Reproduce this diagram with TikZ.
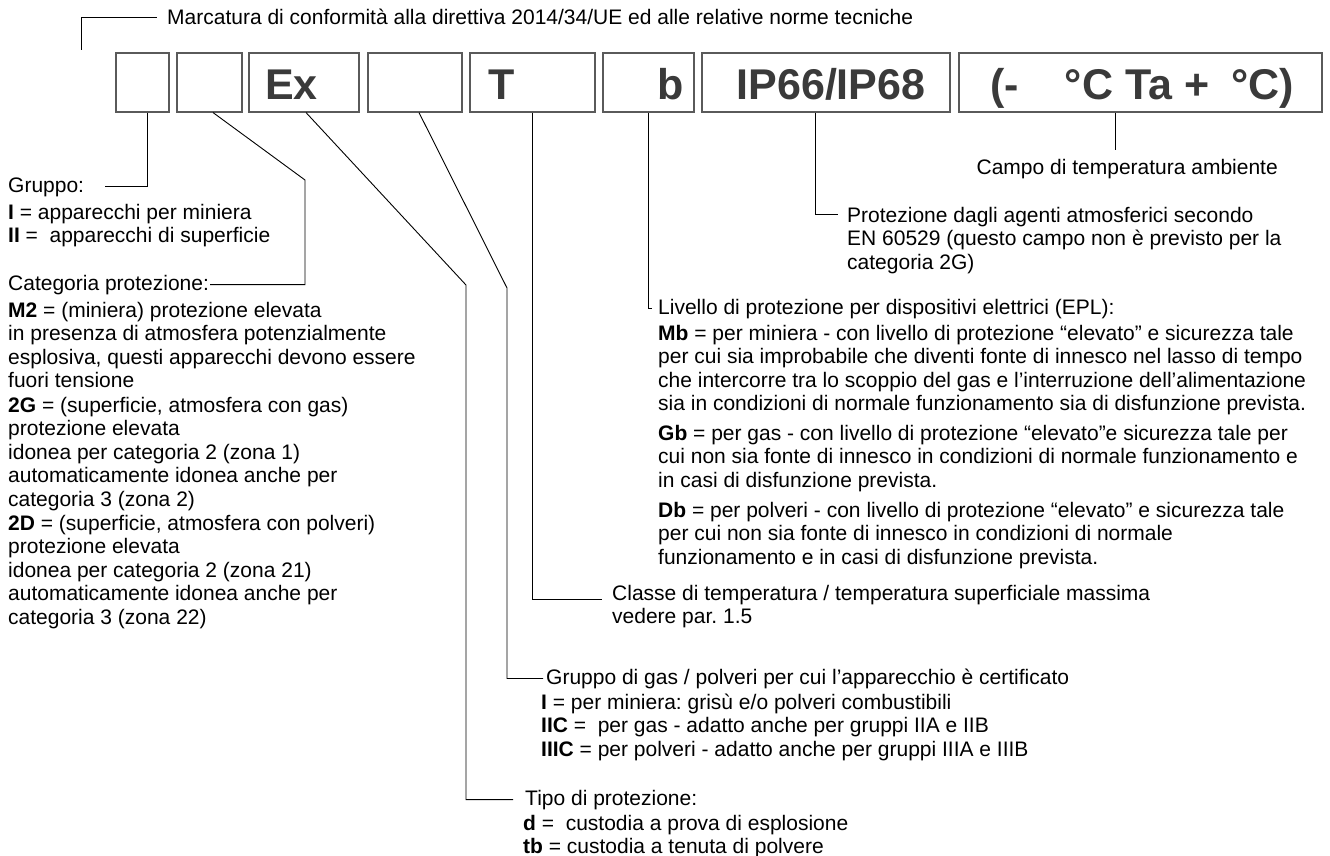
\documentclass[tikz,border=0pt]{standalone}
\usepackage{fontspec}
\setmainfont{Liberation Sans}
\definecolor{boxtext}{HTML}{3A3A3A}
\definecolor{boxline}{HTML}{5A5A5A}
\begin{document}
\frenchspacing
\begin{tikzpicture}[x=1pt,y=-1pt,
  txt/.style={font=\fontsize{21}{23.5}\selectfont\frenchspacing, inner sep=0pt, anchor=base west, align=left},
  markbox/.style={draw=boxline, line width=1.1pt, minimum height=59pt, inner sep=0pt},
  boxtxt/.style={font=\fontsize{43}{43}\selectfont\bfseries, text=boxtext, inner sep=0pt},
  conn/.style={draw=black, line width=0.9pt}]
\useasboundingbox[fill=white] (0,0) rectangle (1330,856);

% marking boxes
\node[markbox, minimum width=53pt]  (b1) at (142.5,82.5) {};
\node[markbox, minimum width=65pt]  (b2) at (209.5,82.5) {};
\node[markbox, minimum width=110pt] (b3) at (304,82.5) {};
\node[markbox, minimum width=94pt]  (b4) at (415,82.5) {};
\node[markbox, minimum width=125pt] (b5) at (532.5,82.5) {};
\node[markbox, minimum width=91pt]  (b6) at (648.5,82.5) {};
\node[markbox, minimum width=248pt] (b7) at (826,82.5) {};
\node[markbox, minimum width=363pt] (b8) at (1140.5,82.5) {};

\node[boxtxt, anchor=base west] (tex) at (265,100) {Ex};
\node[boxtxt, anchor=base west] (tt) at (488,100) {T};
\node[boxtxt, anchor=base east] (tb) at (684,100) {b};
\node[boxtxt, anchor=base] (tip) at (831,100) {IP66/IP68};
\node[boxtxt, anchor=base] (tta) at (1142,100) {(-\hspace{46pt}°C Ta +\hspace{10pt} °C)};

% texts (multi-line nodes: base anchor = baseline of last line)
\node[txt] (marc) at (167,25) {Marcatura di conformità alla direttiva 2014/34/UE ed alle relative norme tecniche};
\node[txt, anchor=base east] (campo) at (1278,174) {Campo di temperatura ambiente};

\node[txt] (gruppo) at (8,192) {Gruppo:};
\node[txt] (gI) at (8,242.5) {\textbf{I} = apparecchi per miniera\\\textbf{II} =\ \ apparecchi di superficie};
\node[txt] (cat) at (8,290) {Categoria protezione:};
\node[txt] (m2) at (8,387.5) {\textbf{M2} = (miniera) protezione elevata\\in presenza di atmosfera potenzialmente\\esplosiva, questi apparecchi devono essere\\fuori tensione};
\node[txt] (g2) at (8,506) {\textbf{2G} = (superficie, atmosfera con gas)\\protezione elevata\\idonea per categoria 2 (zona 1)\\automaticamente idonea anche per\\categoria 3 (zona 2)};
\node[txt] (d2) at (8,624) {\textbf{2D} = (superficie, atmosfera con polveri)\\protezione elevata\\idonea per categoria 2 (zona 21)\\automaticamente idonea anche per\\categoria 3 (zona 22)};

\node[txt] (prot) at (847,269) {Protezione dagli agenti atmosferici secondo\\EN 60529 (questo campo non è previsto per la\\categoria 2G)};
\node[txt] (liv) at (658,314) {Livello di protezione per dispositivi elettrici (EPL):};
\node[txt] (mb) at (658,410.5) {\textbf{Mb} = per miniera - con livello di protezione “elevato” e sicurezza tale\\per cui sia improbabile che diventi fonte di innesco nel lasso di tempo\\che intercorre tra lo scoppio del gas e l’interruzione dell’alimentazione\\sia in condizioni di normale funzionamento sia di disfunzione prevista.};
\node[txt] (gb) at (658,487) {\textbf{Gb} = per gas - con livello di protezione “elevato”e sicurezza tale per\\cui non sia fonte di innesco in condizioni di normale funzionamento e\\in casi di disfunzione prevista.};
\node[txt] (db) at (658,564) {\textbf{Db} = per polveri - con livello di protezione “elevato” e sicurezza tale\\per cui non sia fonte di innesco in condizioni di normale\\funzionamento e in casi di disfunzione prevista.};

\node[txt] (classe) at (612,623.5) {Classe di temperatura / temperatura superficiale massima\\vedere par. 1.5};
\node[txt] (gas) at (546,684) {Gruppo di gas / polveri per cui l’apparecchio è certificato};
\node[txt] (gasI) at (541,756) {\textbf{I} = per miniera: grisù e/o polveri combustibili\\\textbf{IIC} =\ \ per gas - adatto anche per gruppi IIA e IIB\\\textbf{IIIC} = per polveri - adatto anche per gruppi IIIA e IIIB};
\node[txt] (tipo) at (525,805) {Tipo di protezione:};
\node[txt] (dd) at (523,853.5) {\textbf{d} =\ \ custodia a prova di esplosione\\\textbf{tb} = custodia a tenuta di polvere};

% connectors
\coordinate (k0) at (81,50);
\coordinate (k2) at (305,180);
\coordinate (k3) at (466,285);
\coordinate (k4) at (507,288);
\coordinate (k8) at (1115,150);

\draw[conn] (k0) |- ([xshift=-10pt]marc.west);
\draw[conn] ([xshift=4.5pt]b1.south) |- ([xshift=21pt]gruppo.east);
\draw[conn] ([xshift=3.5pt]b2.south) -- (k2) |- ([xshift=1pt]cat.east);
\draw[conn] ([xshift=2pt]b3.south) -- (k3) |- ([xshift=-12pt]tipo.west);
\draw[conn] ([xshift=4pt]b4.south) -- (k4) |- ([xshift=-3pt]gas.west);
\draw[conn] (b5.south) |- ([xshift=-10pt,yshift=-15pt]classe.north west);
\draw[conn] (b6.south) |- ([xshift=-6pt]liv.west);
\draw[conn] ([xshift=-11pt]b7.south) |- ([xshift=-9pt,yshift=-8pt]prot.north west);
\draw[conn] ([xshift=-25.5pt]b8.south) -- (k8);
\end{tikzpicture}
\end{document}
